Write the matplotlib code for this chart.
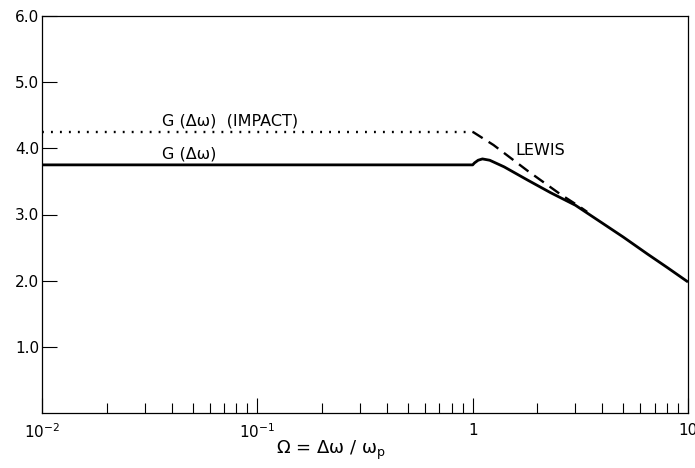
import matplotlib
matplotlib.use("Agg")
import matplotlib.pyplot as plt
from matplotlib.ticker import LogLocator, NullFormatter, FixedLocator

plt.rcParams.update({
    "font.family": ["DejaVu Sans"],
    "mathtext.fontset": "dejavusans",
    "font.size": 10,
})

# G(dw) computed curve
omega_solid = [0.01, 1.0, 1.02, 1.06, 1.11, 1.2, 1.4, 1.8, 2.3, 3.0, 4.0, 5.0, 6.5, 8.0, 10.0]
g_solid = [3.75, 3.75, 3.78, 3.82, 3.84, 3.82, 3.72, 3.52, 3.33, 3.14, 2.87, 2.66, 2.40, 2.20, 1.98]

# G(dw) impact approximation
omega_impact = [0.01, 1.0]
g_impact = [4.25, 4.25]

# Lewis result
omega_lewis = [1.0, 1.25, 1.8, 2.57, 3.1, 3.4]
g_lewis = [4.25, 4.05, 3.66, 3.30, 3.13, 3.04]

y_ticks = [1.0, 2.0, 3.0, 4.0, 5.0, 6.0]
x_ticks = [0.01, 0.1, 1.0, 10.0]
x_ticklabels = [r"$10^{-2}$", r"$10^{-1}$", "1", "10"]

fig = plt.figure(figsize=(6.95, 4.68), dpi=100)
ax = fig.add_axes([42 / 695, 1 - 413 / 468, 646 / 695, 397 / 468])

ax.plot(omega_solid, g_solid, color="black", lw=2.0, solid_capstyle="butt")
ax.plot(omega_impact, g_impact, color="black", lw=1.7, linestyle=(0, (0.8, 3.0)))
ax.plot(omega_lewis, g_lewis, color="black", lw=1.7, linestyle=(0, (5, 3)))

ax.text(0.036, 4.35, "G (Δω)  (IMPACT)", fontsize=11.5, ha="left", va="baseline")
ax.text(0.036, 3.85, "G (Δω)", fontsize=11.5, ha="left", va="baseline")
ax.text(1.58, 3.90, "LEWIS", fontsize=11.5, ha="left", va="baseline")

ax.set_xscale("log")
ax.set_xlim(0.01, 10)
ax.set_ylim(0, 6)

ax.xaxis.set_major_locator(FixedLocator(x_ticks))
ax.set_xticklabels(x_ticklabels)
ax.xaxis.set_minor_locator(LogLocator(base=10, subs=range(2, 10)))
ax.xaxis.set_minor_formatter(NullFormatter())
ax.set_yticks(y_ticks)
ax.set_yticklabels([f"{v:.1f}" for v in y_ticks])

ax.tick_params(axis="x", which="major", direction="in", length=11, width=0.8, pad=7, labelsize=11)
ax.tick_params(axis="x", which="minor", direction="in", length=7, width=0.8)
ax.tick_params(axis="y", which="major", direction="in", length=11, width=0.8, pad=2, labelsize=11)

for side in ["left", "bottom", "top", "right"]:
    ax.spines[side].set_linewidth(0.9)

ax.set_xlabel(r"$\mathsf{\Omega}$ = Δω / ω$_\mathsf{p}$", fontsize=13)
ax.xaxis.set_label_coords(0.447, -0.065)

fig.savefig("out.png", dpi=100)
